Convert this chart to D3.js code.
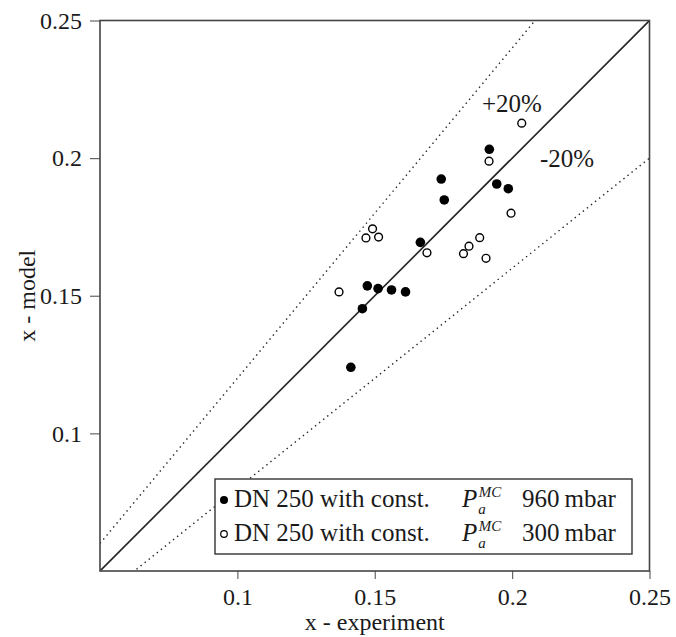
<!DOCTYPE html>
<html><head><meta charset="utf-8">
<script src="https://cdn.jsdelivr.net/npm/d3@7"></script>
<style>body{margin:0;background:#fff}svg{display:block}
svg text{font-family:'Liberation Serif','Tinos','Noto Serif','DejaVu Serif','FreeSerif','Nimbus Roman','Times New Roman',Times,serif !important}</style>
</head><body>
<script>
// data
const filledX = [0.1917,0.1742,0.1753,0.1944,0.1986,0.1666,0.1473,0.1512,0.1561,0.1612,0.1455,0.1413];
const filledY = [0.2032,0.1924,0.1848,0.1906,0.1889,0.1694,0.1536,0.1526,0.1521,0.1514,0.1453,0.1240];
const openX = [0.2035,0.1916,0.1996,0.1492,0.1468,0.1514,0.1690,0.1823,0.1843,0.1882,0.1905,0.1370];
const openY = [0.2127,0.1989,0.1800,0.1743,0.1710,0.1713,0.1656,0.1653,0.1680,0.1711,0.1636,0.1514];
const xTicks = [0.1,0.15,0.2,0.25];
const yTicks = [0.1,0.15,0.2,0.25];
const refFactors = [1.2,0.8];
const legendLabels = [["DN 250 with const.","960\u2009mbar"],["DN 250 with const.","300\u2009mbar"]];

const INK="#1a1a1a";
const W=676,H=637, m={l:100,t:20.5,r:26.5,b:66};
const svg=d3.select("body").append("svg").attr("width",W).attr("height",H);
const x=d3.scaleLinear().domain([0.05,0.25]).range([m.l,W-m.r]);
const y=d3.scaleLinear().domain([0.05,0.25]).range([H-m.b,m.t]);
const fmt=d=>String(+d.toFixed(2));
function txt(sel,size){return sel.style("font-size",size+"px").attr("fill",INK);}

svg.append("defs").append("clipPath").attr("id","c").append("rect")
  .attr("x",m.l).attr("y",m.t).attr("width",W-m.l-m.r).attr("height",H-m.t-m.b);
const g=svg.append("g").attr("clip-path","url(#c)");

// reference lines
const line=d3.line().x(d=>x(d[0])).y(d=>y(d[1]));
g.append("path").attr("d",line([[0.05,0.05],[0.25,0.25]])).attr("stroke","#222").attr("stroke-width",1.6).attr("fill","none");
refFactors.forEach(f=>{
  g.append("path").attr("d",line([[0.05,0.05*f],[0.25,0.25*f]])).attr("stroke","#222")
   .attr("stroke-width",1.4).attr("stroke-dasharray","1.4,3.8").attr("fill","none");
});

// axes
const xa=svg.append("g").attr("transform",`translate(0,${H-m.b})`)
  .call(d3.axisBottom(x).tickValues(xTicks).tickFormat(fmt).tickSize(8).tickSizeOuter(0));
const ya=svg.append("g").attr("transform",`translate(${m.l},0)`)
  .call(d3.axisLeft(y).tickValues(yTicks).tickFormat(fmt).tickSize(10).tickSizeOuter(0));
[xa,ya].forEach(a=>{a.attr("font-family",null);a.select(".domain").remove();
  a.selectAll("line").attr("stroke","#666").attr("stroke-width",1.2);
  txt(a.selectAll("text"),24);});
xa.selectAll("text").attr("y",34).attr("dy","0");
ya.selectAll("text").attr("x",-18).attr("dy","0.32em");
// frame
svg.append("rect").attr("x",m.l).attr("y",m.t).attr("width",W-m.l-m.r).attr("height",H-m.t-m.b)
  .attr("fill","none").attr("stroke","#444").attr("stroke-width",1.6);

// points
svg.append("g").selectAll("circle").data(filledX.map((v,i)=>[v,filledY[i]])).join("circle")
  .attr("cx",d=>x(d[0])).attr("cy",d=>y(d[1])).attr("r",4.8).attr("fill","#000");
svg.append("g").selectAll("circle").data(openX.map((v,i)=>[v,openY[i]])).join("circle")
  .attr("cx",d=>x(d[0])).attr("cy",d=>y(d[1])).attr("r",3.9).attr("fill","#fff").attr("stroke","#000").attr("stroke-width",1.4);

// labels
txt(svg.append("text").attr("x",482).attr("y",112),25).text("+20%");
txt(svg.append("text").attr("x",540).attr("y",167),25).text("-20%");
txt(svg.append("text").attr("x",(m.l+W-m.r)/2).attr("y",630).attr("text-anchor","middle"),24).text("x - experiment");
txt(svg.append("text").attr("transform",`translate(35,${(m.t+H-m.b)/2}) rotate(-90)`).attr("text-anchor","middle"),24).text("x - model");

// legend
const lg=svg.append("g");
lg.append("rect").attr("x",215).attr("y",479).attr("width",417).attr("height",75).attr("fill","#fff").attr("stroke","#333").attr("stroke-width",1.4);
legendLabels.forEach((lab,i)=>{
  const yy=507+i*34;
  const c=lg.append("circle").attr("cx",224).attr("cy",yy-7).attr("r",i==0?4:3.3);
  if(i==0) c.attr("fill","#000"); else c.attr("fill","#fff").attr("stroke","#000").attr("stroke-width",1.2);
  const t1=txt(lg.append("text").attr("x",234).attr("y",yy),25).text(lab[0]);
  const e1=234+t1.node().getComputedTextLength();
  const pX=Math.max(e1+14,462);
  const tp=txt(lg.append("text").attr("x",pX).attr("y",yy),25).style("font-style","italic").text("P");
  const eP=pX+tp.node().getComputedTextLength();
  const sup=txt(lg.append("text").attr("x",eP+1.5).attr("y",yy-10),15).style("font-style","italic").text("MC");
  txt(lg.append("text").attr("x",eP+1).attr("y",yy+7),15).style("font-style","italic").text("a");
  const eS=eP+1.5+sup.node().getComputedTextLength();
  txt(lg.append("text").attr("x",Math.max(eS+9,522)).attr("y",yy),25).text(lab[1]);
});
</script>
</body></html>
